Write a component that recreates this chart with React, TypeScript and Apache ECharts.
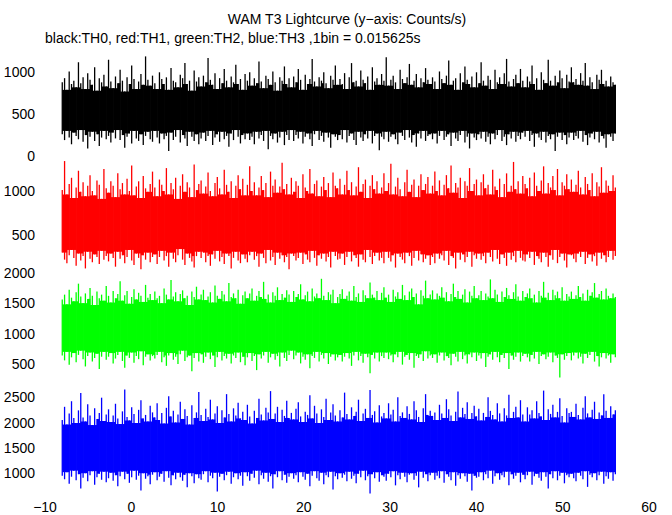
import React, { useEffect, useRef } from "react";
import * as echarts from "echarts";

const TITLE = "WAM T3 Lightcurve (y\u2212axis: Counts/s)";
const SUBTITLE = "black:TH0, red:TH1, green:TH2, blue:TH3 ,1bin = 0.015625s";

// time span of the light curve (s)
const T_START = -8.0;
const T_END = 56.1;

const xMin = -10;
const xMax = 60;
const xInterval = 10;

// y-axis label values per panel
const th0Ticks = [0, 500, 1000];
const th1Ticks = [500, 1000];
const th2Ticks = [500, 1000, 1500, 2000];
const th3Ticks = [1000, 1500, 2000, 2500];

// y ranges per panel
const th0Range = [0, 1350];
const th1Range = [91, 1386];
const th2Range = [172, 2028];
const th3Range = [530, 2760];

// TH0 (black): per-column upper / lower envelope (counts/s)
const th0Hi = [
  880, 930, 790, 1010, 860, 900, 820, 1120, 870, 940, 800, 990, 910, 850, 1060, 780, 930, 880, 970, 830,
  1150, 890, 810, 950, 870, 1030, 900, 770, 940, 860, 1080, 920, 800, 890, 980, 850, 1190, 910, 840, 960,
  870, 800, 1000, 920, 860, 940, 790, 1050, 900, 880, 820, 970, 930, 1110, 860, 900, 780, 1020, 890, 940,
  830, 960, 880, 1170, 910, 850, 990, 800, 930, 870, 1040, 900, 820, 950, 880, 1090, 860, 920, 790, 980,
  900, 1000, 840, 930, 870, 1130, 890, 810, 960, 920, 850, 1010, 880, 780, 940, 900, 1070, 860, 930, 820,
  950, 880, 1040, 910, 790, 970, 860, 920, 1160, 890, 830, 940, 900, 1000, 870, 810, 960, 910, 1080, 850,
  920, 860, 990, 800, 940, 1110, 880, 900, 830, 1020, 910, 870, 950, 790, 1060, 890, 930, 850, 980, 900,
  1180, 840, 910, 960, 880, 800, 1030, 920, 870, 940, 1100, 850, 900, 980, 820, 930, 880, 1050, 910, 860,
  940, 890, 800, 1010, 920, 870, 960, 1140, 850, 900, 930, 790, 990, 880, 1070, 910, 860, 950, 820, 1000,
  870, 1120, 900, 840, 960, 910, 800, 1030, 880, 940, 860, 990, 1160, 890, 830, 920, 970, 870, 1040, 900,
  820, 950, 890, 1080, 860, 930, 790, 1000, 910, 870, 1150, 900, 840, 960, 880, 1020, 930, 810, 970, 890,
  1060, 880, 920, 850, 990, 900, 1110, 840, 940, 880, 800, 970, 910, 1030, 860, 900, 830, 950, 880, 850,
];
const th0Lo = [
  260, 190, 300, 220, 140, 280, 240, 200, 310, 170, 250, 90, 230, 290, 180, 260, 120, 220, 300, 200,
  240, 160, 280, 210, 310, 190, 250, 100, 230, 270, 150, 300, 210, 180, 260, 130, 240, 290, 200, 170,
  300, 220, 150, 270, 200, 240, 60, 280, 190, 230, 310, 160, 250, 210, 120, 290, 230, 180, 260, 140,
  210, 280, 180, 240, 300, 130, 220, 260, 170, 290, 200, 240, 110, 270, 190, 310, 230, 150, 250, 200,
  270, 190, 230, 140, 290, 210, 250, 180, 300, 80, 240, 200, 270, 160, 220, 290, 130, 250, 190, 310,
  180, 250, 210, 290, 150, 230, 270, 200, 120, 260, 300, 190, 240, 170, 280, 220, 100, 260, 230, 190,
  250, 200, 310, 160, 240, 270, 190, 130, 290, 220, 180, 260, 210, 300, 150, 240, 270, 70, 230, 200,
  290, 170, 230, 260, 200, 140, 280, 240, 190, 310, 220, 160, 250, 110, 270, 210, 300, 180, 240, 260,
  200, 270, 150, 240, 300, 190, 230, 260, 120, 280, 210, 180, 250, 300, 160, 230, 90, 270, 220, 190,
  260, 210, 290, 170, 230, 140, 270, 200, 250, 310, 180, 230, 130, 260, 210, 290, 170, 240, 200, 280,
  230, 300, 180, 250, 110, 270, 220, 190, 290, 160, 240, 200, 260, 60, 230, 280, 190, 250, 140, 220,
  280, 190, 240, 210, 300, 170, 250, 130, 220, 270, 200, 290, 160, 240, 210, 100, 260, 230, 180, 270,
];

// TH1 (red)
const th1Hi = [
  1010, 1340, 960, 1080, 1150, 920, 1040, 1230, 990, 1100, 940, 1060, 1180, 1000, 950, 1120, 1070, 910, 1250, 1030,
  980, 1110, 1060, 930, 1200, 1020, 1090, 960, 1140, 1000, 1290, 950, 1050, 1110, 920, 1170, 1030, 990, 1080, 1220,
  1040, 940, 1130, 1070, 1000, 1260, 960, 1090, 1020, 1150, 910, 1060, 1190, 990, 1100, 1040, 930, 1300, 1010, 1080,
  1120, 970, 1050, 1210, 1000, 940, 1090, 1160, 1030, 960, 1240, 1070, 990, 1110, 920, 1060, 1180, 1020, 1140, 950,
  1070, 1280, 1000, 1100, 950, 1040, 1170, 1010, 1090, 930, 1220, 1060, 1130, 980, 1050, 1320, 1020, 1080, 960, 1150,
  990, 1110, 1060, 920, 1190, 1040, 1000, 1250, 970, 1080, 1120, 940, 1050, 1160, 1010, 1090, 930, 1210, 1060, 1030,
  1140, 960, 1070, 1230, 1010, 1100, 950, 1050, 1270, 990, 1080, 1130, 920, 1060, 1180, 1020, 1110, 970, 1040, 1200,
  1000, 1090, 1310, 960, 1050, 1150, 1020, 940, 1100, 1240, 990, 1070, 1130, 930, 1060, 1190, 1010, 1080, 1160, 970,
  1060, 1220, 1000, 1120, 950, 1070, 1180, 1030, 1290, 980, 1090, 1040, 1150, 920, 1110, 1060, 1260, 1000, 1080, 1130,
  950, 1100, 1190, 1030, 1070, 960, 1240, 1050, 1010, 1140, 930, 1080, 1200, 990, 1060, 1330, 1020, 1110, 970, 1170,
  1080, 1030, 1150, 940, 1210, 1060, 1000, 1120, 1280, 970, 1090, 1040, 1170, 1010, 1250, 950, 1100, 1060, 1190, 1020,
  1130, 990, 1070, 1230, 1040, 960, 1160, 1080, 1010, 1200, 940, 1100, 1050, 1270, 980, 1120, 1060, 1000, 1180, 1040,
];
const th1Lo = [
  300, 220, 180, 270, 330, 240, 150, 290, 210, 260, 120, 310, 230, 190, 280, 250, 170, 320, 220, 260,
  200, 290, 240, 140, 310, 230, 270, 180, 250, 330, 210, 160, 290, 240, 110, 270, 220, 300, 190, 250,
  280, 170, 250, 320, 210, 260, 140, 300, 230, 190, 270, 340, 220, 160, 290, 240, 200, 130, 260, 310,
  240, 300, 190, 260, 150, 280, 230, 320, 200, 250, 170, 290, 260, 120, 240, 310, 210, 180, 280, 230,
  190, 270, 310, 220, 260, 140, 290, 240, 180, 330, 210, 250, 160, 300, 230, 270, 190, 250, 110, 290,
  260, 210, 240, 300, 170, 280, 220, 190, 320, 240, 150, 270, 230, 290, 200, 250, 130, 310, 260, 220,
  230, 290, 160, 250, 310, 200, 270, 240, 140, 280, 220, 190, 330, 250, 170, 260, 300, 210, 240, 180,
  310, 240, 200, 270, 130, 290, 250, 220, 180, 300, 260, 150, 240, 320, 210, 280, 190, 230, 270, 160,
  250, 180, 290, 230, 270, 210, 320, 160, 260, 240, 120, 300, 220, 280, 190, 250, 310, 140, 270, 230,
  290, 220, 260, 180, 300, 250, 200, 330, 230, 170, 280, 240, 150, 300, 220, 260, 190, 320, 240, 210,
  200, 280, 240, 310, 160, 260, 230, 190, 300, 250, 140, 270, 220, 330, 180, 250, 290, 210, 130, 280,
  270, 230, 190, 290, 250, 310, 170, 240, 280, 200, 260, 150, 300, 230, 270, 190, 250, 320, 220, 260,
];

// TH2 (green)
const th2Hi = [
  1560, 1640, 1480, 1720, 1590, 1530, 1680, 1820, 1610, 1500, 1660, 1570, 1750, 1620, 1470, 1690, 1580, 1640, 1540, 1780,
  1620, 1510, 1700, 1580, 1650, 1860, 1540, 1630, 1700, 1490, 1600, 1730, 1560, 1670, 1620, 1520, 1800, 1590, 1650, 1550,
  1690, 1580, 1620, 1500, 1740, 1640, 1560, 1880, 1610, 1680, 1530, 1650, 1710, 1580, 1620, 1470, 1690, 1600, 1770, 1560,
  1640, 1720, 1550, 1610, 1680, 1510, 1790, 1620, 1570, 1700, 1640, 1530, 1830, 1600, 1660, 1580, 1720, 1490, 1630, 1690,
  1580, 1660, 1740, 1540, 1620, 1700, 1600, 1850, 1570, 1640, 1510, 1680, 1620, 1760, 1550, 1650, 1590, 1710, 1640, 1520,
  1700, 1600, 1650, 1810, 1560, 1630, 1690, 1530, 1740, 1610, 1660, 1580, 1900, 1620, 1550, 1680, 1640, 1720, 1500, 1600,
  1650, 1730, 1570, 1620, 1690, 1540, 1780, 1600, 1660, 1520, 1710, 1630, 1580, 1840, 1640, 1590, 1700, 1550, 1670, 1760,
  1590, 1640, 1520, 1720, 1610, 1680, 1570, 1800, 1630, 1550, 1690, 1740, 1600, 1660, 1480, 1710, 1620, 1870, 1580, 1640,
  1710, 1560, 1660, 1620, 1760, 1590, 1680, 1530, 1650, 1820, 1600, 1700, 1570, 1640, 1730, 1510, 1690, 1620, 1780, 1580,
  1630, 1700, 1550, 1660, 1610, 1890, 1580, 1720, 1640, 1520, 1690, 1600, 1750, 1630, 1570, 1680, 1810, 1610, 1540, 1700,
  1600, 1660, 1740, 1580, 1640, 1510, 1700, 1620, 1850, 1590, 1670, 1550, 1720, 1630, 1690, 1580, 1760, 1540, 1650, 1610,
  1690, 1570, 1630, 1780, 1600, 1660, 1540, 1720, 1620, 1680, 1830, 1590, 1650, 1700, 1560, 1740, 1620, 1580, 1660, 1600,
];
const th2Lo = [
  640, 560, 700, 490, 610, 680, 530, 650, 720, 580, 460, 630, 690, 540, 600, 670, 420, 620, 700, 570,
  620, 680, 510, 590, 650, 700, 550, 440, 640, 600, 690, 520, 630, 580, 710, 480, 620, 660, 560, 630,
  590, 650, 700, 530, 610, 470, 640, 680, 570, 620, 500, 660, 720, 550, 610, 640, 380, 600, 680, 540,
  660, 520, 620, 690, 580, 640, 450, 610, 700, 560, 630, 590, 670, 510, 640, 600, 690, 530, 620, 480,
  610, 680, 550, 630, 400, 660, 590, 640, 700, 520, 610, 670, 570, 630, 460, 690, 600, 550, 650, 720,
  580, 640, 690, 510, 620, 570, 660, 430, 630, 600, 700, 540, 650, 590, 680, 500, 620, 660, 560, 610,
  650, 540, 620, 680, 590, 470, 640, 700, 560, 630, 520, 670, 610, 350, 650, 590, 690, 540, 630, 600,
  690, 580, 640, 530, 660, 610, 700, 490, 620, 650, 570, 680, 440, 630, 600, 660, 550, 710, 590, 640,
  600, 660, 520, 640, 690, 560, 630, 600, 480, 670, 620, 540, 700, 580, 640, 510, 660, 610, 690, 550,
  640, 590, 680, 450, 620, 660, 570, 700, 610, 530, 650, 600, 680, 420, 640, 570, 620, 690, 540, 630,
  670, 610, 540, 650, 590, 700, 500, 630, 660, 580, 620, 690, 530, 640, 600, 280, 660, 570, 630, 680,
  560, 640, 690, 590, 620, 510, 670, 600, 650, 700, 540, 630, 460, 610, 680, 590, 640, 520, 660, 610,
];

// TH3 (blue)
const th3Hi = [
  2050, 2310, 1960, 2180, 2420, 2090, 1990, 2240, 2580, 2100, 2020, 2360, 2140, 1950, 2280, 2070, 2190, 2490, 2030, 2160,
  2260, 2010, 2140, 2370, 2080, 1970, 2220, 2650, 2110, 2040, 2300, 2170, 1990, 2250, 2440, 2080, 2150, 2020, 2330, 2200,
  2100, 2380, 2050, 2190, 1980, 2290, 2520, 2120, 2230, 2000, 2160, 2410, 2070, 2260, 2130, 1960, 2340, 2090, 2200, 2600,
  2150, 2030, 2270, 2110, 2450, 2060, 2180, 2320, 1990, 2240, 2100, 2560, 2170, 2020, 2280, 2140, 2390, 2080, 2210, 2050,
  2350, 2120, 1980, 2230, 2090, 2470, 2160, 2040, 2290, 2200, 2620, 2070, 2180, 2310, 2010, 2250, 2130, 2430, 2090, 2190,
  2060, 2270, 2400, 2120, 2010, 2210, 2150, 2540, 2080, 2330, 2180, 1990, 2260, 2110, 2470, 2050, 2200, 2360, 2140, 2020,
  2240, 2100, 2590, 2170, 2060, 2300, 2130, 2210, 2450, 2030, 2180, 2270, 2090, 2640, 2150, 2220, 2000, 2340, 2120, 2190,
  2080, 2380, 2160, 2250, 2020, 2500, 2130, 2200, 2090, 2320, 2170, 2060, 2420, 2240, 2110, 2010, 2280, 2560, 2150, 2230,
  2130, 2200, 2050, 2350, 2180, 2090, 2460, 2260, 2140, 2030, 2210, 2610, 2100, 2290, 2170, 2400, 2070, 2190, 2330, 2120,
  2270, 2040, 2190, 2110, 2500, 2230, 2150, 2060, 2380, 2180, 2020, 2280, 2140, 2550, 2090, 2210, 2310, 2100, 2440, 2160,
  2020, 2300, 2160, 2240, 2080, 2420, 2190, 2120, 2630, 2050, 2260, 2170, 2350, 2100, 2210, 2480, 2130, 2000, 2280, 2190,
  2210, 2110, 2370, 2150, 2060, 2290, 2520, 2180, 2100, 2250, 2410, 2070, 2200, 2140, 2560, 2230, 2090, 2320, 2160, 2240,
];
const th3Lo = [
  950, 880, 1020, 790, 930, 1050, 860, 980, 700, 910, 1000, 840, 960, 1040, 770, 920, 990, 870, 1030, 820,
  900, 1010, 850, 960, 740, 940, 1030, 880, 990, 810, 920, 1050, 870, 950, 660, 1000, 890, 940, 780, 970,
  1020, 860, 930, 990, 830, 1040, 910, 760, 960, 880, 1010, 920, 850, 970, 720, 1000, 940, 800, 980, 900,
  870, 980, 1040, 820, 950, 900, 1010, 640, 930, 990, 860, 960, 1030, 790, 920, 1000, 880, 950, 750, 1020,
  940, 850, 990, 910, 1050, 780, 960, 890, 1010, 830, 940, 700, 980, 920, 1040, 860, 970, 810, 930, 1000,
  890, 960, 820, 1020, 930, 870, 990, 740, 950, 1040, 900, 850, 1010, 780, 960, 920, 1030, 680, 940, 880,
  1000, 910, 970, 840, 1030, 890, 950, 800, 990, 920, 1050, 860, 940, 600, 980, 900, 1020, 830, 960, 930,
  850, 990, 920, 1040, 760, 960, 880, 1010, 930, 820, 970, 1000, 870, 950, 720, 1030, 910, 980, 840, 960,
  1010, 870, 950, 900, 1040, 810, 980, 930, 860, 1020, 750, 960, 890, 1000, 940, 830, 990, 660, 950, 910,
  930, 1020, 860, 980, 900, 1050, 790, 940, 1000, 870, 960, 920, 1030, 760, 980, 890, 950, 1010, 820, 970,
  880, 960, 1030, 770, 940, 990, 910, 850, 1020, 930, 700, 980, 900, 1040, 860, 950, 1010, 800, 960, 920,
  990, 900, 840, 1010, 950, 880, 1040, 730, 970, 920, 1000, 860, 960, 1030, 790, 940, 890, 1020, 850, 980,
];

const FONT = "'Liberation Sans', Arial, Helvetica, sans-serif";

const N_COLS = th0Hi.length;
const DT = (T_END - T_START) / (N_COLS - 1);

// one record per time column: [t, low, high, fillLow, fillHigh]
// fill range = part of the band covered by the neighbouring columns too (drawn solid between columns)
function toColumns(hi: number[], lo: number[]): number[][] {
  const n = hi.length;
  return hi.map((h, k) => {
    const idx = [k - 1, k, k + 1, k + 2].filter((j) => j >= 0 && j < n);
    const fillHigh = Math.min(...idx.map((j) => hi[j]));
    const fillLow = Math.max(...idx.map((j) => lo[j]));
    const last = k === n - 1;
    return [T_START + k * DT, lo[k], h, last ? NaN : fillLow, last ? NaN : fillHigh];
  });
}

const panels = [
  { name: "TH0", hi: th0Hi, lo: th0Lo, range: th0Range, ticks: th0Ticks, color: "#000000", top: 43, height: 113 },
  { name: "TH1", hi: th1Hi, lo: th1Lo, range: th1Range, ticks: th1Ticks, color: "#ff0000", top: 157, height: 114 },
  { name: "TH2", hi: th2Hi, lo: th2Lo, range: th2Range, ticks: th2Ticks, color: "#00ff00", top: 271, height: 113 },
  { name: "TH3", hi: th3Hi, lo: th3Lo, range: th3Range, ticks: th3Ticks, color: "#0000ff", top: 384, height: 113 },
];

export default function App() {
  const ref = useRef<HTMLDivElement>(null);

  useEffect(() => {
    document.body.style.margin = "0";
    if (!ref.current) return;
    const chart = echarts.init(ref.current, undefined, { renderer: "svg" });

    const grids = panels.map((p) => ({
      left: 45,
      right: 23,
      top: p.top,
      height: p.height,
      containLabel: false,
    }));

    const xAxes = panels.map((p, i) => ({
      type: "value",
      gridIndex: i,
      min: xMin,
      max: xMax,
      interval: xInterval,
      axisLine: { show: false },
      axisTick: { show: false },
      splitLine: { show: false },
      axisLabel: {
        show: i === panels.length - 1,
        margin: 3,
        color: "#000",
        fontFamily: FONT,
        fontSize: 14,
        formatter: (v: number) => String(v).replace("-", "\u2212"),
      },
    }));

    const yAxes = panels.map((p, i) => ({
      type: "value",
      gridIndex: i,
      min: p.range[0],
      max: p.range[1],
      axisLine: { show: false },
      axisTick: { show: false },
      splitLine: { show: false },
      axisLabel: {
        show: true,
        customValues: p.ticks,
        margin: 10,
        color: "#000",
        fontFamily: FONT,
        fontSize: 14,
        formatter: (v: number) => String(v),
      },
    }));

    const SPIKE_W = 1.3;

    const series = panels.map((p, i) => ({
      name: p.name,
      type: "custom",
      xAxisIndex: i,
      yAxisIndex: i,
      data: toColumns(p.hi, p.lo),
      encode: { x: 0, y: [1, 2] },
      clip: true,
      renderItem: (params: any, api: any) => {
        const t = api.value(0);
        const lo = api.value(1);
        const hi = api.value(2);
        const fLo = api.value(3);
        const fHi = api.value(4);
        const top = api.coord([t, hi]);
        const bot = api.coord([t, lo]);
        const children: any[] = [
          {
            type: "rect",
            shape: { x: top[0] - SPIKE_W / 2, y: top[1], width: SPIKE_W, height: bot[1] - top[1] },
            style: { fill: p.color },
          },
        ];
        if (!isNaN(fHi)) {
          const bTop = api.coord([t, fHi]);
          const bBot = api.coord([t + DT, fLo]);
          children.push({
            type: "rect",
            shape: {
              x: bTop[0],
              y: bTop[1],
              width: bBot[0] - bTop[0] + 0.3,
              height: bBot[1] - bTop[1],
            },
            style: { fill: p.color },
          });
        }
        return { type: "group", children };
      },
    }));

    chart.setOption({
      animation: false,
      backgroundColor: "#ffffff",
      grid: grids,
      xAxis: xAxes,
      yAxis: yAxes,
      series,
      graphic: [
        {
          type: "text",
          x: 347,
          y: 19,
          style: {
            text: TITLE,
            fill: "#000",
            font: `14px ${FONT}`,
            textAlign: "center",
            textVerticalAlign: "middle",
          },
        },
        {
          type: "text",
          x: 45,
          y: 38,
          style: {
            text: SUBTITLE,
            fill: "#000",
            font: `14px ${FONT}`,
            textAlign: "left",
            textVerticalAlign: "middle",
          },
        },
      ],
    });

    return () => chart.dispose();
  }, []);

  return (
    <div
      ref={ref}
      style={{ position: "absolute", left: 0, top: 0, width: 672, height: 515, background: "#fff" }}
    />
  );
}
